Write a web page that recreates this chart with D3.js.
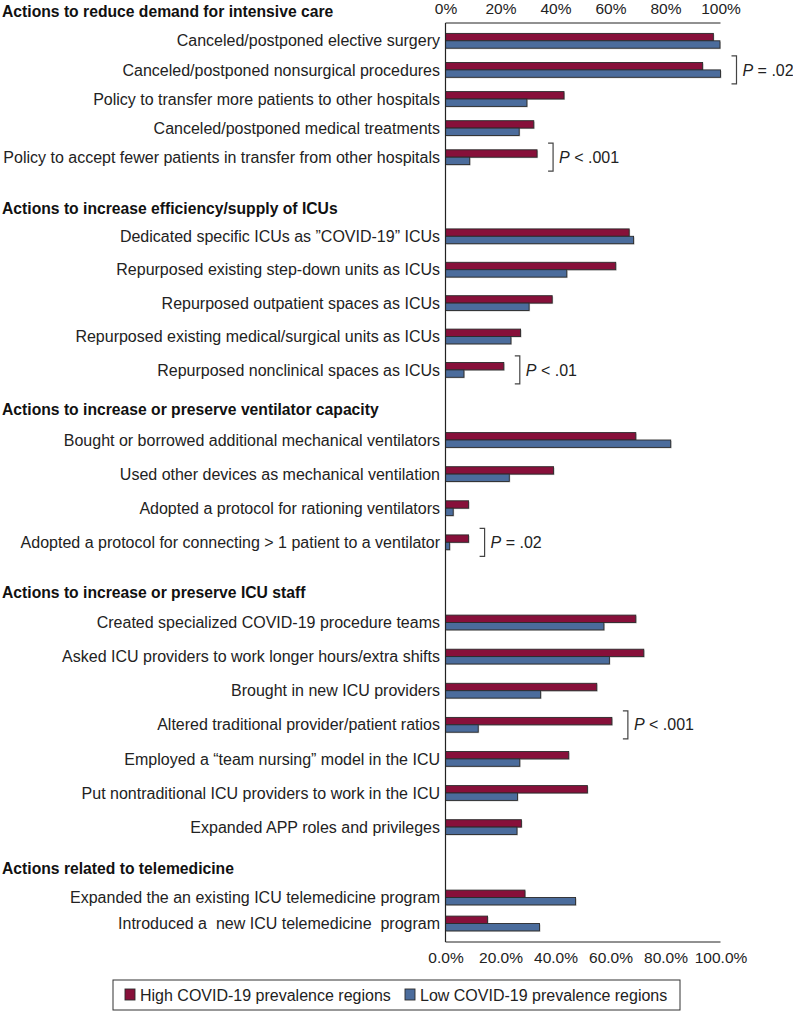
<!DOCTYPE html>
<html>
<head>
<meta charset="utf-8">
<script src="https://cdn.jsdelivr.net/npm/d3@7"></script>
<style>
  html, body { margin: 0; padding: 0; background: #fff; }
  svg { display: block; font-family: "Liberation Sans", Arial, Helvetica, sans-serif; }
  text { white-space: pre; }
</style>
</head>
<body>
<svg id="chart" width="793" height="1011"></svg>
<script>
// ---- Data ----
const groupTitles = [
  "Actions to reduce demand for intensive care",
  "Actions to increase efficiency/supply of ICUs",
  "Actions to increase or preserve ventilator capacity",
  "Actions to increase or preserve ICU staff",
  "Actions related to telemedicine"
];
const group1Actions = [
  "Canceled/postponed elective surgery",
  "Canceled/postponed nonsurgical procedures",
  "Policy to transfer more patients to other hospitals",
  "Canceled/postponed medical treatments",
  "Policy to accept fewer patients in transfer from other hospitals"
];
const group1High = [97.4, 93.5, 43.1, 32.1, 33.3];
const group1Low  = [99.8, 100, 29.6, 26.8, 8.8];

const group2Actions = [
  "Dedicated specific ICUs as \u201dCOVID-19\u201d ICUs",
  "Repurposed existing step-down units as ICUs",
  "Repurposed outpatient spaces as ICUs",
  "Repurposed existing medical/surgical units as ICUs",
  "Repurposed nonclinical spaces as ICUs"
];
const group2High = [66.8, 61.9, 38.8, 27.3, 21.2];
const group2Low  = [68.4, 44.1, 30.4, 23.8, 6.7];

const group3Actions = [
  "Bought or borrowed additional mechanical ventilators",
  "Used other devices as mechanical ventilation",
  "Adopted a protocol for rationing ventilators",
  "Adopted a protocol for connecting > 1 patient to a ventilator"
];
const group3High = [69.2, 39.3, 8.4, 8.4];
const group3Low  = [81.9, 23.2, 2.8, 1.5];

const group4Actions = [
  "Created specialized COVID-19 procedure teams",
  "Asked ICU providers to work longer hours/extra shifts",
  "Brought in new ICU providers",
  "Altered traditional provider/patient ratios",
  "Employed a \u201cteam nursing\u201d model in the ICU",
  "Put nontraditional ICU providers to work in the ICU",
  "Expanded APP roles and privileges"
];
const group4High = [69.2, 72.1, 55.0, 60.5, 44.8, 51.6, 27.6];
const group4Low  = [57.6, 59.6, 34.6, 11.9, 27.0, 26.2, 26.0];

const group5Actions = [
  "Expanded the an existing ICU telemedicine program",
  "Introduced a  new ICU telemedicine  program"
];
const group5High = [28.9, 15.3];
const group5Low  = [47.3, 34.2];

const seriesNames = ["High COVID-19 prevalence regions", "Low COVID-19 prevalence regions"];
const topTicks = [0, 20, 40, 60, 80, 100];
const topTickLabels = ["0%", "20%", "40%", "60%", "80%", "100%"];
const bottomTickLabels = ["0.0%", "20.0%", "40.0%", "60.0%", "80.0%", "100.0%"];

// P-value annotations: [group index, row index, operator, value]
const pGroups  = [0, 0, 1, 2, 3];
const pRows    = [1, 4, 4, 3, 3];
const pOps     = ["=", "<", "<", "=", "<"];
const pValues  = [".02", ".001", ".01", ".02", ".001"];

// ---- Layout ----
const colors = { high: "#87103a", low: "#4b6c9c", stroke: "#2a2a2a", shadow: "#c8c8c8" };
const groupLayout = [
  { header: 12,  first: 40.8,  step: 29.1 },
  { header: 209, first: 236.3, step: 33.4 },
  { header: 410, first: 440,   step: 34.1 },
  { header: 593, first: 622.5, step: 34.1 },
  { header: 869, first: 897.5, step: 26 }
];
const barH = 7.4;

const groups = [
  { actions: group1Actions, high: group1High, low: group1Low },
  { actions: group2Actions, high: group2High, low: group2Low },
  { actions: group3Actions, high: group3High, low: group3Low },
  { actions: group4Actions, high: group4High, low: group4Low },
  { actions: group5Actions, high: group5High, low: group5Low }
];

const svg = d3.select("#chart");
const x = d3.scaleLinear().domain([0, 100]).range([445.5, 720.5]);
const axisTop = 23, axisBottom = 942;

groups.forEach((g, i) => {
  const L = groupLayout[i];
  const n = g.actions.length;
  g.y = d3.scalePoint().domain(g.actions)
    .range([L.first, L.first + L.step * (n - 1)]);
});

// Axes lines
svg.append("line").attr("x1", x(0)).attr("x2", x(100)).attr("y1", axisTop).attr("y2", axisTop)
  .attr("stroke", "#222").attr("stroke-width", 1);
svg.append("line").attr("x1", x(0)).attr("x2", x(100)).attr("y1", axisBottom).attr("y2", axisBottom)
  .attr("stroke", "#222").attr("stroke-width", 1);

// Tick labels
const topAxis = d3.axisTop(x).tickValues(topTicks).tickSize(0).tickPadding(0)
  .tickFormat((d, i) => topTickLabels[i]);
const gTop = svg.append("g").attr("transform", `translate(0, 14)`).call(topAxis);
gTop.select(".domain").remove();
gTop.selectAll("text").attr("font-size", 15.5).attr("fill", "#222")
  .attr("font-family", "'Liberation Sans', Arial, sans-serif").attr("dy", 0);

const bottomAxis = d3.axisBottom(x).tickValues(topTicks).tickSize(0).tickPadding(0)
  .tickFormat((d, i) => bottomTickLabels[i]);
const gBot = svg.append("g").attr("transform", `translate(0, 963)`).call(bottomAxis);
gBot.select(".domain").remove();
gBot.selectAll("text").attr("font-size", 15.5).attr("fill", "#222")
  .attr("font-family", "'Liberation Sans', Arial, sans-serif").attr("dy", 0);

// Groups
groups.forEach((g, gi) => {
  const L = groupLayout[gi];
  svg.append("text").attr("x", 2).attr("y", L.header).attr("dy", "0.35em")
    .attr("font-size", 15.7).attr("font-weight", "bold").attr("fill", "#111")
    .text(groupTitles[gi]);

  const rows = svg.append("g").selectAll("g.row")
    .data(g.actions.map((a, i) => ({ a, high: g.high[i], low: g.low[i] })))
    .join("g").attr("class", "row");

  rows.append("text").attr("x", 440).attr("y", d => g.y(d.a)).attr("dy", "0.35em")
    .attr("text-anchor", "end").attr("font-size", 16).attr("fill", "#222")
    .text(d => d.a);

  rows.append("rect").attr("x", x(0) + 1).attr("y", d => g.y(d.a) - barH + 1)
    .attr("width", d => x(d.high) - x(0)).attr("height", barH).attr("fill", colors.shadow);
  rows.append("rect").attr("x", x(0) + 1).attr("y", d => g.y(d.a) + 1)
    .attr("width", d => x(d.low) - x(0)).attr("height", barH).attr("fill", colors.shadow);

  rows.append("rect").attr("x", x(0)).attr("y", d => g.y(d.a) - barH)
    .attr("width", d => x(d.high) - x(0)).attr("height", barH)
    .attr("fill", colors.high).attr("stroke", colors.stroke).attr("stroke-width", 0.9);
  rows.append("rect").attr("x", x(0)).attr("y", d => g.y(d.a))
    .attr("width", d => x(d.low) - x(0)).attr("height", barH)
    .attr("fill", colors.low).attr("stroke", colors.stroke).attr("stroke-width", 0.9);
});

// vertical axis line
svg.append("line").attr("x1", x(0)).attr("x2", x(0)).attr("y1", axisTop).attr("y2", axisBottom)
  .attr("stroke", "#222").attr("stroke-width", 1.2);

// P-value annotations
pGroups.forEach((gi, k) => {
  const g = groups[gi];
  const name = g.actions[pRows[k]];
  const cy = g.y(name);
  const maxV = Math.max(g.high[pRows[k]], g.low[pRows[k]]);
  const bx = x(maxV) + 16;
  const half = 14;
  svg.append("path")
    .attr("d", `M${bx - 5},${cy - half}H${bx}V${cy + half}H${bx - 5}`)
    .attr("fill", "none").attr("stroke", "#444").attr("stroke-width", 1.2);
  const t = svg.append("text").attr("x", bx + 6).attr("y", cy).attr("dy", "0.35em")
    .attr("font-size", 16).attr("fill", "#222");
  t.append("tspan").attr("font-style", "italic").text("P");
  t.append("tspan").text(` ${pOps[k]} ${pValues[k]}`);
});

// Legend
const leg = svg.append("g");
leg.append("rect").attr("x", 113).attr("y", 980).attr("width", 567).attr("height", 30)
  .attr("fill", "#fff").attr("stroke", "#333").attr("stroke-width", 1);
const legX = [125, 405];
seriesNames.forEach((s, i) => {
  leg.append("rect").attr("x", legX[i]).attr("y", 989).attr("width", 10).attr("height", 11)
    .attr("fill", i === 0 ? colors.high : colors.low).attr("stroke", colors.stroke).attr("stroke-width", 0.9);
  leg.append("text").attr("x", legX[i] + 15).attr("y", 995).attr("dy", "0.35em")
    .attr("font-size", 16).attr("fill", "#222").text(s);
});
</script>
</body>
</html>
